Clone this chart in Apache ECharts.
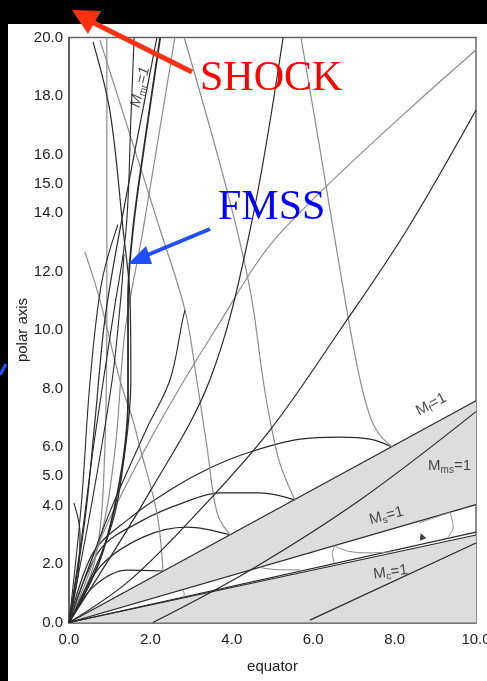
<!DOCTYPE html>
<html><head><meta charset="utf-8">
<script src="https://cdn.jsdelivr.net/npm/echarts@6/dist/echarts.min.js"></script>
<style>html,body{margin:0;padding:0;background:#fff;}#c{width:487px;height:681px;}</style>
</head><body><div id="c"></div>
<script>
// axis ticks
const xTicks = [0, 2, 4, 6, 8, 10];
const yTicks = [0, 2, 4, 5, 6, 8, 10, 12, 14, 15, 16, 18, 20];

// critical surfaces
const mfLine = [[0, 0], [10, 7.58]];
const msLine = [[0, 0], [10, 4.03]];
const mmsCurve = [[2.06, 0], [4.45, 1.79], [7.15, 4.19], [10, 7.21]];
const mcLine = [[5.92, 0.08], [10, 2.72]];
const sepUpper = [[0, 0], [10, 3.09]];
const sepLower = [[0, 0], [10, 2.99]];

// shaded zones
const zoneUpper = [[0, 0], [10, 7.58], [10, 4.03]];
const zoneLower = [[0, 0], [10, 2.99], [10, 0]];

// arcs from the origin up to the Mf=1 surface
const arc1 = [[0, 0], [0.59, 2.38], [1.43, 3.50], [2.48, 4.53], [3.46, 5.28], [4.45, 5.83], [5.68, 6.27], [6.66, 6.34], [7.40, 6.27], [7.94, 6.00]];
const arc2 = [[0, 0], [0.76, 2.48], [1.82, 3.50], [2.80, 4.09], [3.71, 4.43], [4.69, 4.43], [5.55, 4.19]];
const arc3 = [[0, 0], [0.76, 1.90], [1.82, 2.92], [2.90, 3.26], [3.96, 2.99]];
const arc4 = [[0, 0], [0.59, 1.21], [1.43, 1.79], [2.31, 1.76]];

// scalloped edges inside the narrow band below Ms=1
const scallop1 = [[6.53, 2.62], [6.85, 2.44], [7.4, 2.38], [7.96, 2.42]];
const scallop2 = [[6.53, 2.62], [6.47, 2.35], [6.52, 2.03]];
const scallop3 = [[9.36, 3.76], [9.44, 3.28], [9.30, 2.90]];
const scallop4 = [[9.36, 3.76], [8.9, 3.55], [8.6, 3.40]];
const scallop5 = [[4.69, 1.88], [5.2, 1.80], [5.68, 1.80]];
const scallop6 = [[2.80, 1.12], [2.83, 0.98], [2.82, 0.86]];

// grey characteristics coming down from the top
const grey1 = [[5.70, 20], [6.17, 16.15], [6.66, 12.05], [7.10, 8.63], [7.40, 7.03], [7.64, 6.41], [7.94, 6.00]];
const grey2 = [[2.83, 20], [3.88, 14.79], [4.45, 11.37], [4.77, 8.29], [4.94, 6.92], [5.18, 5.45], [5.55, 4.19]];
const grey3 = [[0.76, 19.91], [1.50, 16.67], [2.24, 13.42], [2.85, 10.68], [3.14, 8.29], [3.39, 6.00], [3.64, 3.74], [3.96, 2.99]];
const grey4 = [[0.39, 12.67], [0.76, 11.03], [1.25, 8.29], [1.57, 6.92], [1.74, 6.00], [2.16, 3.74], [2.31, 1.76]];
const grey5 = [[0.93, 20], [0.93, 11.03], [0.88, 5.90], [0.64, 2.14], [0, 0]];
const grey6 = [[2.60, 20], [1.82, 13.42], [1.38, 10.0], [1.13, 5.90], [0.76, 2.82], [0, 0]];
const greyLong = [[10, 19.57], [5.26, 13.42], [3.59, 10.0], [1.99, 6.24], [0.76, 2.82], [0, 0]];

// black field lines
const black1 = [[0.59, 19.85], [1.01, 17.44], [1.33, 13.42], [1.50, 11.03], [1.52, 8.29], [1.38, 5.90], [1.01, 3.16], [0, 0]];
const mmrCurve = [[2.24, 20], [1.87, 16.50], [1.57, 13.42], [1.45, 11.03], [1.45, 7.61], [1.25, 4.87], [0.76, 2.14], [0, 0]];
const black3 = [[2.16, 20], [1.25, 13.42], [0.88, 10.34], [0.64, 6.92], [0.39, 3.50], [0, 0]];
const black4 = [[5.26, 20], [4.45, 13.42], [3.46, 8.29], [2.0, 4.5], [0, 0]];
const black5 = [[10, 17.52], [8.30, 13.42], [6.66, 10.0], [4.94, 6.58], [3.22, 3.85], [1.50, 1.45], [0, 0]];
const black6 = [[1.60, 20], [1.52, 17.2], [1.40, 13.4], [1.10, 10.6], [0.62, 6.2], [0.32, 3.0], [0, 0]];
const black7 = [[0, 0], [0.30, 4.0], [0.52, 8.29], [0.80, 11.6], [1.20, 13.6]];
const black8 = [[0, 0], [0.55, 4.0], [1.06, 8.29], [1.28, 11.2], [1.35, 12.6]];
const black9 = [[0, 0], [0.95, 3.6], [1.90, 6.6], [2.48, 8.29], [2.80, 10.4], [2.85, 10.68]];
const spike = [[0.12, 4.09], [0.27, 3.06], [0.22, 1.62], [0, 0]];

const chart = echarts.init(document.getElementById('c'));
const FONT = "'Liberation Sans Narrow', 'Arial Narrow', 'Liberation Sans', Arial, sans-serif";

function curve(name, data, color, width, smooth) {
  return {
    name, type: 'line', data, smooth: smooth === undefined ? 0.35 : smooth,
    symbol: 'none', silent: true, z: 3,
    lineStyle: { color, width }
  };
}
function zone(poly) {
  return {
    type: 'custom', silent: true, z: 1, data: [poly[0]],
    renderItem: (params, api) => ({
      type: 'polygon',
      shape: { points: poly.map(p => api.coord(p)) },
      style: { fill: '#dddddd', stroke: null }
    })
  };
}

const BLK = '#2a2a2a', GRY = '#8c8c8c';

chart.setOption({
  animation: false,
  backgroundColor: '#ffffff',
  grid: {
    left: 69, right: 11, top: 37.5, bottom: 58.5, containLabel: false, outerBoundsMode: 'none',
    show: true, borderColor: '#666', borderWidth: 1.5
  },
  xAxis: {
    type: 'value', min: 0, max: 10, interval: 2,
    name: 'equator', nameLocation: 'middle', nameGap: 37, nameMoveOverlap: false,
    nameTextStyle: { fontFamily: FONT, fontSize: 15, color: '#222' },
    axisLine: { lineStyle: { color: '#555', width: 1.5 } },
    axisTick: { show: false }, splitLine: { show: false },
    axisLabel: { fontFamily: FONT, fontSize: 15, color: '#222', margin: 10, formatter: v => v.toFixed(1) }
  },
  yAxis: {
    type: 'value', min: 0, max: 20,
    name: 'polar axis', nameLocation: 'middle', nameGap: 39, nameMoveOverlap: false,
    nameTextStyle: { fontFamily: FONT, fontSize: 15, color: '#222' },
    axisLine: { lineStyle: { color: '#555', width: 1.5 } },
    axisTick: { show: false }, splitLine: { show: false },
    axisLabel: { customValues: yTicks, fontFamily: FONT, fontSize: 15, color: '#222', margin: 6, formatter: v => v.toFixed(1) }
  },
  series: [
    zone(zoneUpper), zone(zoneLower),
    curve('Mf', mfLine, BLK, 1.2, false),
    curve('Ms', msLine, BLK, 1.2, false),
    curve('Mms', mmsCurve, BLK, 1.2),
    curve('Mc', mcLine, BLK, 1.2, false),
    curve('sepU', sepUpper, BLK, 1.1, false),
    curve('sepL', sepLower, BLK, 1.1, false),
    curve('a1', arc1, BLK, 1.2), curve('a2', arc2, BLK, 1.2), curve('a3', arc3, BLK, 1.2), curve('a4', arc4, BLK, 1.2),
    curve('s1', scallop1, GRY, 1), curve('s2', scallop2, GRY, 1), curve('s3', scallop3, GRY, 1),
    curve('s4', scallop4, GRY, 1), curve('s5', scallop5, GRY, 1), curve('s6', scallop6, GRY, 1),
    curve('g1', grey1, GRY, 1.2), curve('g2', grey2, GRY, 1.2), curve('g3', grey3, GRY, 1.2),
    curve('g4', grey4, GRY, 1.2), curve('g5', grey5, GRY, 1.2), curve('g6', grey6, GRY, 1.2),
    curve('gL', greyLong, GRY, 1.2),
    curve('b1', black1, BLK, 1.2), curve('mmr', mmrCurve, BLK, 1.8), curve('b3', black3, BLK, 1.2),
    curve('b4', black4, BLK, 1.2), curve('b5', black5, BLK, 1.2), curve('b6', black6, BLK, 1.1),
    curve('b7', black7, BLK, 1.1), curve('b8', black8, BLK, 1.1), curve('b9', black9, BLK, 1.1),
    curve('sp', spike, BLK, 1.1),
    {
      type: 'scatter', silent: true, z: 5, symbolSize: 0,
      data: [
        { value: [1.75, 18.3], label: { formatter: '{i|M}{s|mr}{i|=1}', rotate: 76 } },
        { value: [8.9, 7.45], label: { formatter: '{n|M}{s|f}{n|=1}', rotate: 28 } },
        { value: [9.35, 5.35], label: { formatter: '{n|M}{s|ms}{n|=1}', rotate: 0 } },
        { value: [7.8, 3.65], label: { formatter: '{n|M}{s|s}{n|=1}', rotate: 15 } },
        { value: [7.9, 1.72], label: { formatter: '{n|M}{s|c}{n|=1}', rotate: 8 } }
      ],
      label: {
        show: true, position: 'inside', color: '#222',
        rich: {
          n: { fontFamily: FONT, fontSize: 15, color: '#222' },
          i: { fontFamily: FONT, fontSize: 15, color: '#222', fontStyle: 'italic' },
          s: { fontFamily: FONT, fontSize: 10, color: '#222', verticalAlign: 'bottom', padding: [8, 0, 0, 0] }
        }
      }
    },
    {
      type: 'scatter', silent: true, z: 6, symbol: 'triangle', symbolSize: 7, symbolRotate: 20,
      itemStyle: { color: '#111' }, data: [[8.67, 2.95]]
    }
  ],
  graphic: [
    { type: 'rect', shape: { x: 0, y: 0, width: 487, height: 24 }, style: { fill: '#000' }, z: 100 },
    { type: 'rect', shape: { x: 0, y: 0, width: 8, height: 681 }, style: { fill: '#000' }, z: 100 },
    { type: 'line', shape: { x1: 0, y1: 375, x2: 6, y2: 364 }, style: { stroke: '#1f4fff', lineWidth: 3 }, z: 101 },
    // SHOCK arrow
    { type: 'line', shape: { x1: 192, y1: 72, x2: 92, y2: 22 }, style: { stroke: '#ff3010', lineWidth: 5 }, z: 101 },
    { type: 'polygon', shape: { points: [[72, 10], [101, 11], [88, 34]] }, style: { fill: '#ff3010' }, z: 101 },
    { type: 'text', left: 200, top: 58, style: { text: 'SHOCK', fill: '#ff0000', font: "42px 'Liberation Serif', 'Times New Roman', serif" }, z: 101 },
    // FMSS arrow
    { type: 'line', shape: { x1: 210, y1: 229, x2: 145, y2: 256 }, style: { stroke: '#1f4fff', lineWidth: 4 }, z: 101 },
    { type: 'polygon', shape: { points: [[128, 264], [146, 246], [152, 264]] }, style: { fill: '#1f4fff' }, z: 101 },
    { type: 'text', left: 218, top: 187, style: { text: 'FMSS', fill: '#0000ff', font: "42px 'Liberation Serif', 'Times New Roman', serif" }, z: 101 }
  ]
});
</script></body></html>
